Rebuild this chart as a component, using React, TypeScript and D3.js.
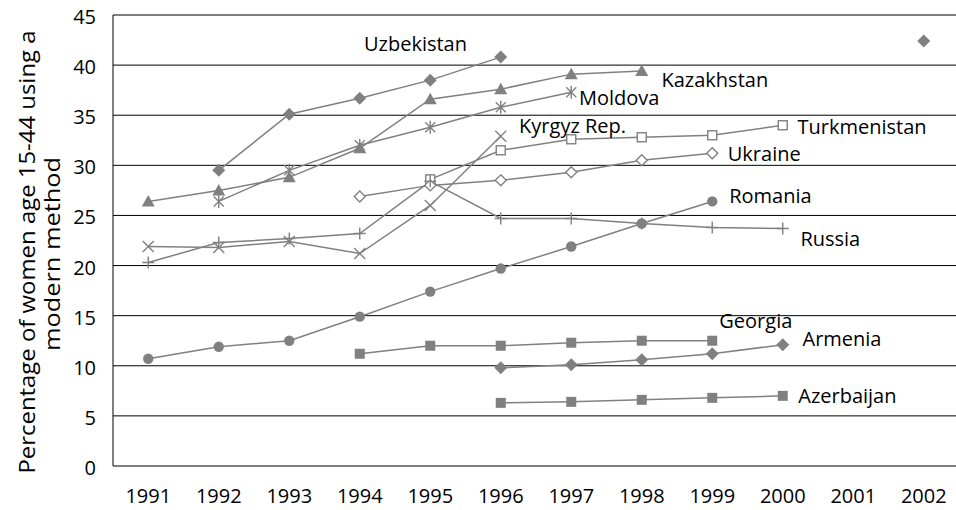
import React from "react";
import * as d3 from "d3";

const years = [1991, 1992, 1993, 1994, 1995, 1996, 1997, 1998, 1999, 2000, 2001, 2002];
const yTicks = [0, 5, 10, 15, 20, 25, 30, 35, 40, 45];

const uzbekistan = [null, 29.5, 35.1, 36.7, 38.5, 40.8, null, null, null, null, null, 42.4];
const kazakhstan = [26.4, 27.5, 28.8, 31.7, 36.6, 37.6, 39.1, 39.4, null, null, null, null];
const moldova = [null, 26.4, 29.5, 32.0, 33.8, 35.8, 37.3, null, null, null, null, null];
const kyrgyz = [21.9, 21.8, 22.4, 21.2, 26.0, 32.9, null, null, null, null, null, null];
const turkmenistan = [null, null, null, null, 28.6, 31.5, 32.6, 32.8, 33.0, 34.0, null, null];
const ukraine = [null, null, null, 26.9, 28.0, 28.5, 29.3, 30.5, 31.2, null, null, null];
const russia = [20.3, 22.3, 22.7, 23.2, 28.4, 24.7, 24.7, 24.2, 23.8, 23.7, null, null];
const romania = [10.7, 11.9, 12.5, 14.9, 17.4, 19.7, 21.9, 24.2, 26.4, null, null, null];
const georgia = [null, null, null, 11.2, 12.0, 12.0, 12.3, 12.5, 12.5, null, null, null];
const armenia = [null, null, null, null, null, 9.8, 10.1, 10.6, 11.2, 12.1, null, null];
const azerbaijan = [null, null, null, null, null, 6.3, 6.4, 6.6, 6.8, 7.0, null, null];

// label anchors in data units: name, year, value
const labelNames = ["Uzbekistan", "Kazakhstan", "Moldova", "Kyrgyz Rep.", "Turkmenistan", "Ukraine", "Romania", "Russia", "Georgia", "Armenia", "Azerbaijan"];
const labelYears = [1994.06, 1998.28, 1997.11, 1996.26, 2000.21, 1999.22, 1999.24, 2000.25, 1999.1, 2000.28, 2000.22];
const labelValues = [41.36, 37.82, 36.02, 33.18, 33.13, 30.43, 26.27, 21.95, 13.77, 11.97, 6.26];

const titleLines = ["Percentage of women age 15-44 using a", "modern method"];

type Marker = "diamond" | "triangle" | "asterisk" | "x" | "openSquare" | "openDiamond" | "plus" | "circle" | "square";

const series: { values: (number | null)[]; marker: Marker }[] = [
  { values: uzbekistan, marker: "diamond" },
  { values: kazakhstan, marker: "triangle" },
  { values: moldova, marker: "asterisk" },
  { values: kyrgyz, marker: "x" },
  { values: turkmenistan, marker: "openSquare" },
  { values: ukraine, marker: "openDiamond" },
  { values: russia, marker: "plus" },
  { values: romania, marker: "circle" },
  { values: georgia, marker: "square" },
  { values: armenia, marker: "diamond" },
  { values: azerbaijan, marker: "square" },
];

const W = 956;
const H = 510;
const GRAY = "#808080";
const FONT = "'Open Sans', 'Noto Sans', sans-serif";
const FS = 20;

function MarkerShape({ type, cx, cy }: { type: Marker; cx: number; cy: number }) {
  const t = `translate(${cx},${cy})`;
  switch (type) {
    case "diamond":
      return <path transform={t} d="M0,-6.5L6.5,0L0,6.5L-6.5,0Z" fill={GRAY} />;
    case "openDiamond":
      return <path transform={t} d="M0,-5.5L5.5,0L0,5.5L-5.5,0Z" fill="#fff" stroke={GRAY} strokeWidth={1.4} />;
    case "triangle":
      return <path transform={t} d="M0,-6.5L6.5,5L-6.5,5Z" fill={GRAY} />;
    case "circle":
      return <circle cx={cx} cy={cy} r={5.2} fill={GRAY} />;
    case "square":
      return <rect x={cx - 5} y={cy - 5} width={10} height={10} fill={GRAY} />;
    case "openSquare":
      return <rect x={cx - 4.5} y={cy - 4.5} width={9} height={9} fill="#fff" stroke={GRAY} strokeWidth={1.4} />;
    case "plus":
      return <path transform={t} d="M-6,0H6M0,-6V6" stroke={GRAY} strokeWidth={1.4} fill="none" />;
    case "x":
      return <path transform={t} d="M-5.5,-5.5L5.5,5.5M-5.5,5.5L5.5,-5.5" stroke={GRAY} strokeWidth={1.4} fill="none" />;
    case "asterisk":
      return <path transform={t} d="M-5,-5L5,5M-5,5L5,-5M0,-6.5V6.5" stroke={GRAY} strokeWidth={1.4} fill="none" />;
  }
  return null;
}

export default function App() {
  const x = d3.scaleLinear().domain([1990.5, 2002.5]).range([113, 959]);
  const y = d3.scaleLinear().domain([0, 45]).range([466, 15]);

  const line = d3
    .line<number | null>()
    .defined((d) => d != null)
    .x((_, i) => x(years[i]))
    .y((d) => y(d as number));

  return (
    <svg
      width={W}
      height={H}
      style={{ position: "absolute", left: 0, top: 0, background: "#fff" }}
      fontFamily={FONT}
    >
      <rect width={W} height={H} fill="#fff" />
      {yTicks.map((t) => (
        <line key={"g" + t} x1={x.range()[0]} x2={x.range()[1]} y1={y(t)} y2={y(t)} stroke="#000" strokeWidth={1} />
      ))}
      <line x1={113} x2={113} y1={y(45)} y2={y(0)} stroke="#000" strokeWidth={1} />
      {yTicks.map((t) => (
        <text key={"yt" + t} x={96} y={y(t) + 2} dy="0.35em" textAnchor="end" fontSize={FS} fill="#000">
          {t}
        </text>
      ))}
      {years.map((yr) => (
        <text key={"xt" + yr} x={x(yr)} y={503} textAnchor="middle" fontSize={FS} fill="#000">
          {yr}
        </text>
      ))}
      <g transform="translate(35,252) rotate(-90)">
        <text textAnchor="middle" fontSize={21} fill="#000" textLength={443} lengthAdjust="spacingAndGlyphs">
          {titleLines[0]}
        </text>
      </g>
      <g transform="translate(60,254) rotate(-90)">
        <text textAnchor="middle" fontSize={21} fill="#000" textLength={194} lengthAdjust="spacingAndGlyphs">
          {titleLines[1]}
        </text>
      </g>
      {series.map((s, si) => (
        <path key={"l" + si} d={line(s.values) || ""} fill="none" stroke={GRAY} strokeWidth={1.5} />
      ))}
      {series.map((s, si) =>
        s.values.map((v, i) =>
          v == null ? null : <MarkerShape key={`m${si}-${i}`} type={s.marker} cx={x(years[i])} cy={y(v)} />
        )
      )}
      {labelNames.map((n, i) => (
        <text key={"lb" + i} x={x(labelYears[i])} y={y(labelValues[i])} fontSize={FS} fill="#000">
          {n}
        </text>
      ))}
    </svg>
  );
}
